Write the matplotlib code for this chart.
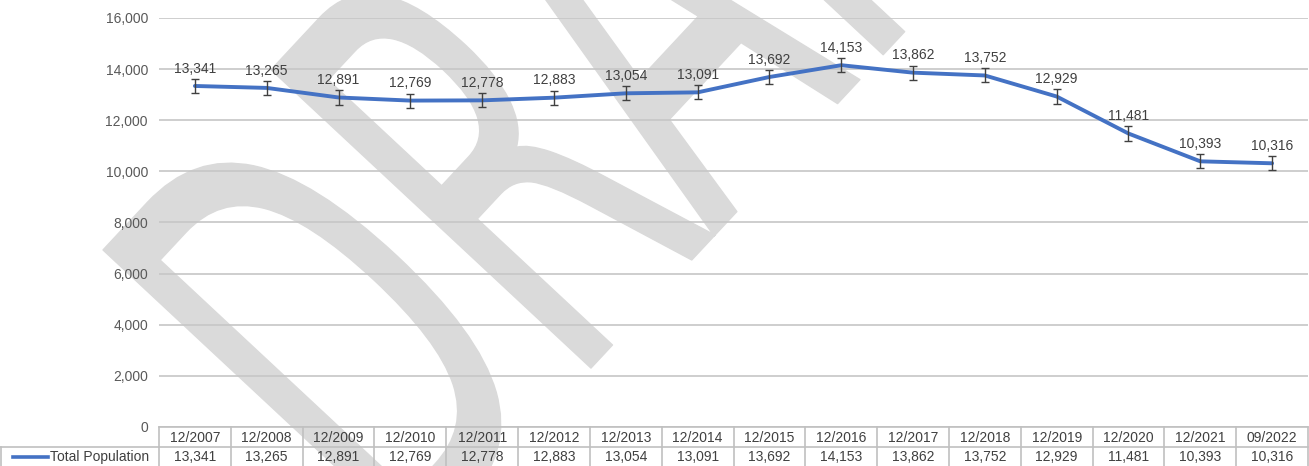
import matplotlib
matplotlib.use('Agg')
import matplotlib.pyplot as plt
import matplotlib.transforms as mtransforms
from matplotlib.textpath import TextPath
from matplotlib.patches import PathPatch
from matplotlib.font_manager import FontProperties
from matplotlib.lines import Line2D
from matplotlib.ticker import FuncFormatter

periods = ['12/2007', '12/2008', '12/2009', '12/2010', '12/2011', '12/2012',
           '12/2013', '12/2014', '12/2015', '12/2016', '12/2017', '12/2018',
           '12/2019', '12/2020', '12/2021', '09/2022']
population = [13341, 13265, 12891, 12769, 12778, 12883, 13054, 13091,
              13692, 14153, 13862, 13752, 12929, 11481, 10393, 10316]
error = 275
series_name = 'Total Population'
y_ticks = [0, 2000, 4000, 6000, 8000, 10000, 12000, 14000, 16000]

plt.rcParams['font.family'] = ['Liberation Sans', 'DejaVu Sans']

W, H = 1309, 466
blue = '#4472C4'
dark = '#404040'
grid = '#c6c6c6'

fig = plt.figure(figsize=(W / 100, H / 100), dpi=100)
fig.patch.set_facecolor('white')


def fy(py):
    # pixel row (from top) -> figure fraction
    return 1 - py / H


# watermark "DRAFT", stretched and rotated, behind everything
fp = FontProperties(family='DejaVu Sans')
tp = TextPath((0, 0), 'DRAFT', size=1, prop=fp)
cap = 0.729
lsb = 0.098
sx, sy, ang = 320, 600, 47
wm = mtransforms.Affine2D().scale(sx, sy).rotate_deg(ang)
cx, cy = wm.transform((lsb, cap))
wm = wm.translate(103 - cx, (H - 250) - cy)
patch = PathPatch(tp, facecolor='#dadada', edgecolor='#dadada', lw=1,
                  joinstyle='round', zorder=-5,
                  transform=wm + mtransforms.Affine2D().scale(1 / 100) + fig.dpi_scale_trans)
fig.add_artist(patch)

ax = fig.add_axes([159 / W, fy(427), (1308 - 159) / W, (427 - 18) / H])
ax.set_facecolor('none')
x = list(range(len(periods)))

ax.plot(x, population, color=blue, lw=2.8, solid_capstyle='round',
        solid_joinstyle='round', zorder=3)
ax.errorbar(x, population, yerr=error, fmt='none', ecolor=dark,
            elinewidth=1, capsize=2.6, capthick=1, zorder=4)
for i, v in enumerate(population):
    ax.annotate(f'{v:,}', (i, v), xytext=(0, 9.5), textcoords='offset points',
                ha='center', va='baseline', fontsize=10, color=dark, zorder=5)

ax.set_xlim(-0.5, len(periods) - 0.5)
ax.set_ylim(0, 16000)
ax.set_yticks(y_ticks)
ax.yaxis.set_major_formatter(FuncFormatter(lambda v, p: f'{int(v):,}'))
ax.set_xticks([])
ax.tick_params(axis='y', length=0, pad=8, labelsize=10, labelcolor='#595959')
ax.grid(axis='y', color=grid, lw=1.2)
ax.set_axisbelow(True)
for s in ax.spines.values():
    s.set_visible(False)

# data table under the plot
tr = mtransforms.blended_transform_factory(ax.transData, fig.transFigure)
border = '#c0c0c0'
n = len(periods)
for i in range(n + 1):
    fig.add_artist(Line2D([i - 0.5, i - 0.5], [fy(427), fy(466)], color=border,
                          lw=1.2, transform=tr))
fig.add_artist(Line2D([-0.5, n - 0.5], [fy(427), fy(427)], color=border, lw=1.2, transform=tr))
fig.add_artist(Line2D([-0.5, n - 0.5], [fy(447), fy(447)], color=border, lw=1.2, transform=tr))
fig.add_artist(Line2D([0, 159 / W], [fy(447), fy(447)], color=border, lw=1.2,
                      transform=fig.transFigure))
fig.add_artist(Line2D([0.6 / W, 0.6 / W], [fy(447), fy(466)], color=border, lw=1.2,
                      transform=fig.transFigure))
for i, (p, v) in enumerate(zip(periods, population)):
    fig.text(i, fy(437.5), p, transform=tr, ha='center', va='center',
             fontsize=10, color=dark)
    fig.text(i, fy(457), f'{v:,}', transform=tr, ha='center', va='center',
             fontsize=10, color=dark)

fig.add_artist(Line2D([13 / W, 48 / W], [fy(457), fy(457)], color=blue, lw=2.6,
                      transform=fig.transFigure))
fig.text(50 / W, fy(457), series_name, ha='left', va='center', fontsize=10, color=dark)

fig.savefig('out.png', dpi=100)
